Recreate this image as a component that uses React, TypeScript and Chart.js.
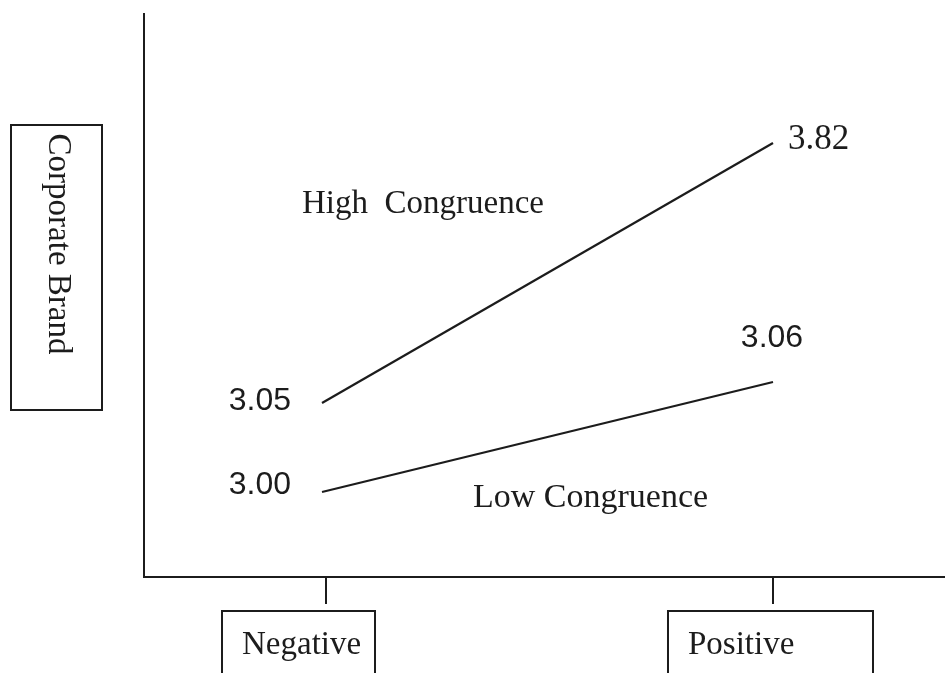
import React, { useEffect, useRef } from "react";
import { Chart, registerables } from "chart.js";

Chart.register(...registerables);

// ---- data ----
const conditions = ["Negative", "Positive"];
const seriesNames = ["High Congruence", "Low Congruence"];
const highCongruence = [3.05, 3.82];
const lowCongruence = [3.0, 3.06];
const yAxisTitle = "Corporate Brand";

const SERIF = "'Liberation Serif', 'Times New Roman', serif";
const SANS = "'Liberation Sans', Arial, sans-serif";
const INK = "#1c1c1c";

const annotate = {
  id: "annotate",
  afterDraw(chart: any) {
    const ctx = chart.ctx as CanvasRenderingContext2D;
    const a = chart.chartArea;
    const xs = chart.scales.x;
    ctx.save();
    ctx.strokeStyle = INK;
    ctx.fillStyle = INK;
    ctx.lineWidth = 2;

    // axes
    ctx.beginPath();
    ctx.moveTo(a.left, a.top);
    ctx.lineTo(a.left, a.bottom);
    ctx.lineTo(a.right, a.bottom);
    ctx.stroke();

    // tick marks + category boxes
    const boxes = [
      { dx: -100, tick: 4, w: 153 },
      { dx: -105, tick: 0, w: 205 },
    ];
    conditions.forEach((c, i) => {
      const px = xs.getPixelForValue(i);
      ctx.beginPath();
      ctx.moveTo(px + boxes[i].tick, a.bottom);
      ctx.lineTo(px + boxes[i].tick, a.bottom + 27);
      ctx.stroke();
      const bx = px + boxes[i].dx;
      const by = a.bottom + 34;
      ctx.strokeRect(bx, by, boxes[i].w, 120);
      ctx.font = `33px ${SERIF}`;
      ctx.textAlign = "left";
      ctx.textBaseline = "alphabetic";
      ctx.fillText(c, bx + 20, by + 43);
    });

    // y title box
    ctx.strokeRect(11, 125, 91, 285);
    ctx.save();
    ctx.translate(58, 244);
    ctx.rotate(Math.PI / 2);
    ctx.font = `33px ${SERIF}`;
    ctx.textAlign = "center";
    ctx.textBaseline = "middle";
    ctx.fillText(yAxisTitle, 0, 0);
    ctx.restore();

    // value labels
    const labelStyle = [
      [
        { font: SANS, align: "right", base: "middle", dx: -31, dy: -2 },
        { font: SERIF, align: "left", base: "middle", dx: 15, dy: -3 },
      ],
      [
        { font: SANS, align: "right", base: "middle", dx: -31, dy: -7 },
        { font: SANS, align: "center", base: "bottom", dx: -1, dy: -28 },
      ],
    ];
    const values = [highCongruence, lowCongruence];
    values.forEach((vals, d) => {
      const meta = chart.getDatasetMeta(d);
      vals.forEach((v, i) => {
        const pt = meta.data[i];
        const s = labelStyle[d][i];
        ctx.font = s.font === SANS ? `32px ${SANS}` : `35px ${SERIF}`;
        ctx.textAlign = s.align as CanvasTextAlign;
        ctx.textBaseline = s.base as CanvasTextBaseline;
        ctx.fillText(v.toFixed(2), pt.x + s.dx, pt.y + s.dy);
      });
    });

    // series names
    ctx.font = `33px ${SERIF}`;
    ctx.textAlign = "left";
    ctx.textBaseline = "alphabetic";
    ctx.fillText(seriesNames[0].replace(" ", "  "), 302, 213);
    ctx.font = `34px ${SERIF}`;
    ctx.fillText(seriesNames[1], 473, 507);

    ctx.restore();
  },
};

export default function App() {
  const ref = useRef<HTMLCanvasElement | null>(null);
  useEffect(() => {
    document.body.style.margin = "0";
    document.body.style.background = "#ffffff";
    const canvas = ref.current!;
    const chart = new Chart(canvas, {
      type: "line",
      data: {
        datasets: [
          {
            label: seriesNames[0],
            data: highCongruence.map((v, i) => ({ x: i, y: v })),
            yAxisID: "yHigh",
            borderColor: INK,
            borderWidth: 2.2,
            pointRadius: 0,
            fill: false,
          },
          {
            label: seriesNames[1],
            data: lowCongruence.map((v, i) => ({ x: i, y: v })),
            yAxisID: "yLow",
            borderColor: INK,
            borderWidth: 2.2,
            pointRadius: 0,
            fill: false,
          },
        ],
      },
      options: {
        responsive: false,
        animation: false,
        layout: { padding: { left: 144, top: 13, right: 0, bottom: 96 } },
        plugins: { legend: { display: false }, tooltip: { enabled: false } },
        scales: {
          x: { type: "linear", min: -0.3947, max: 1.3814, display: false },
          yHigh: { type: "linear", min: 2.5347, max: 4.205, display: false },
          yLow: { type: "linear", min: 2.9536, max: 3.2613, display: false },
        },
      },
      plugins: [annotate],
    });
    return () => chart.destroy();
  }, []);
  return (
    <div style={{ width: 945, height: 673, background: "#fff" }}>
      <canvas ref={ref} width={945} height={673} style={{ display: "block" }} />
    </div>
  );
}
